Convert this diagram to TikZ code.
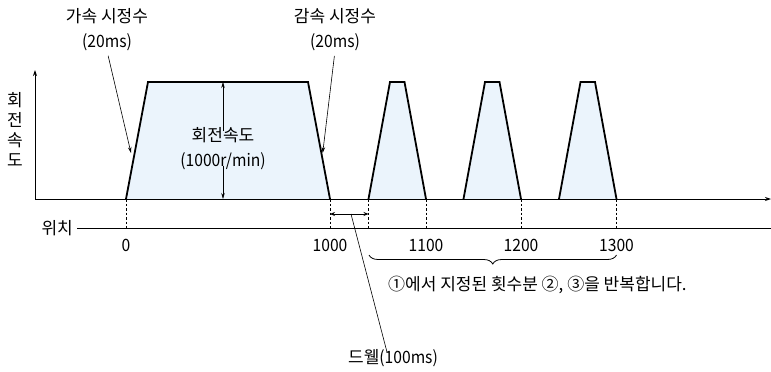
\documentclass[tikz,border=0pt]{standalone}
\usepackage{fontspec}
\setmainfont{Noto Sans CJK KR}
\usepackage{tikz}
\usetikzlibrary{arrows.meta, decorations.pathreplacing, positioning}
\definecolor{speedfill}{RGB}{235,244,252}
\newcommand{\latn}{\addfontfeature{FakeStretch=0.92}}

\begin{document}
\begin{tikzpicture}[
    x=1pt, y=-1pt,
    txt/.style={font=\fontsize{17}{25}\selectfont, inner sep=0pt, align=center},
    profile/.style={line width=1.8pt, fill=speedfill, line join=miter},
    guide/.style={line width=0.7pt, dash pattern=on 2.5pt off 2pt},
    axis/.style={line width=0.9pt, -{Stealth[length=6pt, width=4pt]}},
    leader/.style={line width=0.6pt, -{Stealth[length=6pt, width=3.5pt]}},
    dim/.style={line width=0.8pt, {Stealth[length=5pt, width=4pt]}-{Stealth[length=5pt, width=4pt]}}
]
    \useasboundingbox (0,0) rectangle (771,372);
    % Speed profile (big move + three repeated moves)
    \draw[profile] (126,199) -- (148,82) -- (308,82) -- (330,199);
    \foreach \s in {368.5, 463.5, 559} {
        \draw[profile] (\s,199) -- ++(21.5,-117) -- ++(14.5,0) -- ++(21.5,117);
    }
    % Axes
    \coordinate (origin) at (35,199);
    \coordinate (ytop) at (35,70);
    \coordinate (xend) at (771,199);
    \draw[axis] (origin) -- (ytop);
    \draw[axis] (origin) -- (xend);
    \node[txt, font=\fontsize{17}{19.7}\selectfont] (vlabel) at (15,129.5) {회\\전\\속\\도};
    % Position line
    \node[txt, anchor=east] (pos) at (73,228) {위치};
    \coordinate (posend) at (771,228);
    \draw[line width=0.9pt] ([xshift=4pt]pos.east) -- (posend);
    \foreach \x/\v in {126/0, 330/1000, 426/1100, 521/1200, 616.5/1300} {
        \node[txt] (p\v) at (\x,245) {\latn\v};
    }
    \foreach \x in {126, 330, 368.5, 426, 521, 616.5} {
        \draw[guide] (\x,199) -- (\x,228);
    }
    % Speed label with dimension arrow
    \node[txt] (speed) at (223,148.5) {회전속도\\{\latn(1000r/min)}};
    \coordinate (stop) at (223,82);
    \coordinate (sbot) at (223,199);
    \draw[leader] ([yshift=-4pt]speed.north) -- (stop);
    \draw[leader] ([yshift=4pt]speed.south) -- (sbot);
    % Acceleration / deceleration time constants
    \node[txt] (acc) at (107,29.5) {가속 시정수\\{\latn(20ms)}};
    \node[txt] (dec) at (335,29.5) {감속 시정수\\{\latn(20ms)}};
    \coordinate (accpt) at (131,153);
    \coordinate (decpt) at (322.7,153);
    \draw[leader, shorten <=5pt] (acc.south) -- (accpt);
    \draw[leader, shorten <=5pt] (dec.south) -- (decpt);
    % Dwell
    \coordinate (dwa) at (330,214);
    \coordinate (dwb) at (368.5,214);
    \coordinate (dwpt) at (351,214);
    \draw[dim] (dwa) -- (dwb);
    \node[txt] (dwell) at (393,358) {드웰{\latn(100ms)}};
    \draw[line width=0.6pt] (dwpt) -- ([xshift=-6pt, yshift=-3pt]dwell.north);
    % Repeat brace
    \coordinate (bra) at (369,255);
    \coordinate (brb) at (616.5,255);
    \draw[line width=0.8pt, decorate, decoration={brace, mirror, amplitude=9pt}] (bra) -- (brb);
    \node[txt, anchor=west] (repeat) at (388,285) {①에서 지정된 횟수분 ②, ③을 반복합니다.};
\end{tikzpicture}
\end{document}
